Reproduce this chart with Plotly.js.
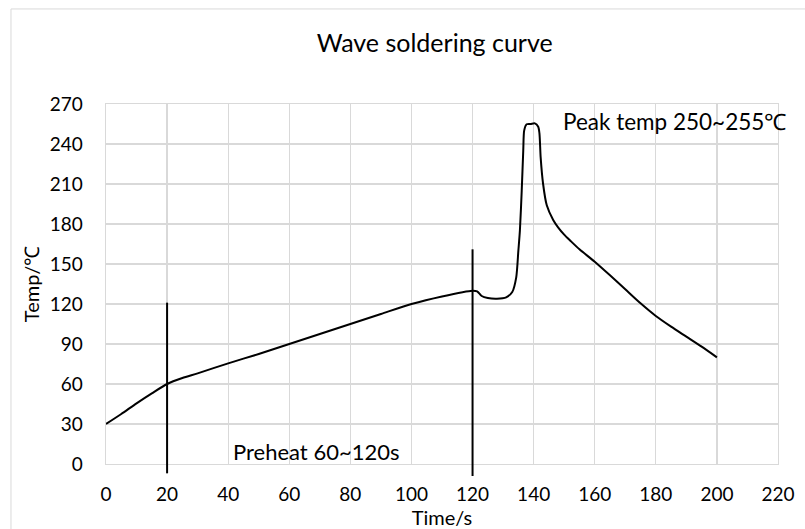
<!DOCTYPE html>
<html>
<head>
<meta charset="utf-8">
<script src="https://cdn.plot.ly/plotly-3.0.1.min.js"></script>
<style>html,body{margin:0;padding:0;background:#fff;}#chart{width:805px;height:529px;}</style>
</head>
<body>
<div id="chart"></div>
<script>
// Curve data (time in s, temperature in ℃)
const timeS = [0,5,10,15,20,25,30,40,50,60,70,80,90,100,110,120,121.5,123,125,128,131,133,134.3,135,135.5,136.1,136.6,136.9,137.7,139,140.4,141.5,141.9,142.3,143.1,144.3,146.4,148,150,152,155,160,165,170,175,180,185,190,195,200];
const tempC = [30,37.5,45.5,53,60,64.5,68,75.5,82.5,90,97.5,105,112.5,120,125.7,130,129.5,126,124.5,124,125,129,140,160,175,205,235,250,254.8,255,255.5,253,248,230,210,194,183,177.5,172,167.5,161,151.7,141.5,131,120.5,111,103,95.5,88,80];
// Vertical marker lines
const markerX = [20,120];
const markerLow = [-7,-9];
const markerHigh = [121,161];
// Axis ticks
const xTicks = [0,20,40,60,80,100,120,140,160,180,200,220];
const yTicks = [0,30,60,90,120,150,180,210,240,270];
const xRange = [0,220];
const yRange = [0,270];

const FONT = 'Lato, "Open Sans", sans-serif';
const grid = '#d9d9d9';

function toPaperY(v){ return (v - yRange[0])/(yRange[1]-yRange[0]); }

const shapes = markerX.map((x,i)=>({
  type:'line', xref:'x', yref:'paper',
  x0:x, x1:x, y0:toPaperY(markerLow[i]), y1:toPaperY(markerHigh[i]),
  line:{color:'#000', width:2}
}));
// outer chart border
shapes.push({type:'rect', xref:'paper', yref:'paper', x0:-0.1414, x1:1.06, y0:-0.25, y1:1.264, line:{color:'#d9d9d9', width:1}, layer:'below'});

const trace = {
  x: timeS, y: tempC, type:'scatter', mode:'lines',
  line:{color:'#000', width:2, shape:'spline', smoothing:0.7},
  hoverinfo:'skip', showlegend:false
};

const layout = {
  width:805, height:529,
  margin:{l:106, r:27, t:104, b:65, pad:0},
  paper_bgcolor:'#fff', plot_bgcolor:'#fff',
  font:{family:FONT, color:'#000', size:18},
  title:{text:'Wave soldering curve', font:{family:FONT, size:25, color:'#000'}, x:0.54, xref:'container', y:0.919, yref:'container', xanchor:'center', yanchor:'middle'},
  xaxis:{range:xRange, tickvals:xTicks, ticktext:xTicks.map(String), showgrid:true, gridcolor:grid, gridwidth:1.3,
    showline:true, linecolor:grid, linewidth:1.3, mirror:true, zeroline:false, ticks:'', ticklabelstandoff:13,
    title:{text:'Time/s', font:{family:FONT, size:20}, standoff:0}, tickfont:{size:19}},
  yaxis:{range:yRange, tickvals:yTicks, ticktext:yTicks.map(String), showgrid:true, gridcolor:grid, gridwidth:1.3,
    showline:true, linecolor:grid, linewidth:1.3, mirror:true, zeroline:false, ticks:'', ticklabelstandoff:18,
    title:{text:'Temp/℃', font:{family:FONT, size:20}, standoff:4}, tickfont:{size:19}},
  shapes: shapes,
  annotations:[
    {text:'Peak temp 250~255℃', x:186, y:256.7, xref:'x', yref:'y', showarrow:false, font:{family:FONT, size:22.5, color:'#000'}, xanchor:'center', yanchor:'middle'},
    {text:'Preheat 60~120s', x:68.7, y:9.75, xref:'x', yref:'y', showarrow:false, font:{family:FONT, size:22, color:'#000'}, xanchor:'center', yanchor:'middle'}
  ]
};

Plotly.newPlot('chart', [trace], layout, {displayModeBar:false, staticPlot:true});
</script>
</body>
</html>
